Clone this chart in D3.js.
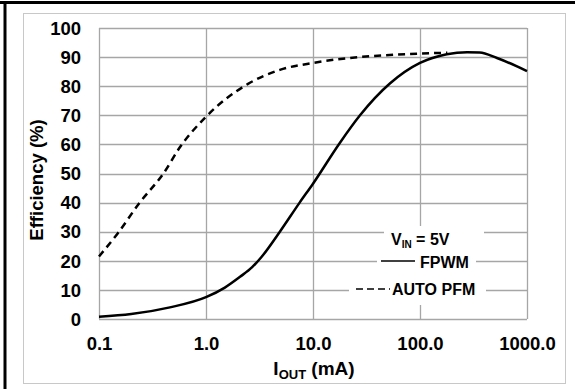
<!DOCTYPE html>
<html><head><meta charset="utf-8">
<script src="https://cdn.jsdelivr.net/npm/d3@7/dist/d3.min.js"></script>
<style>body{margin:0;background:#fff}svg{display:block}text{font-family:"Liberation Sans",Arial,sans-serif;font-weight:bold;fill:#000}</style>
</head><body><svg id="c" width="575" height="389"></svg>
<script>
const xTicks = [0.1, 1, 10, 100, 1000];
const yTicks = [0,10,20,30,40,50,60,70,80,90,100];
const fpwmI   = [0.1, 0.2, 0.46, 1.0, 1.5, 2.08, 2.7, 3.33, 4.9, 7.5, 10, 17.8, 27.5, 52.6, 100, 178, 276, 361, 524, 1000];
const fpwmEff = [0.8, 1.7, 4.0, 7.5, 10.8, 14.5, 17.8, 21.5, 30, 40, 46.5, 60.5, 70, 81, 88, 91, 91.7, 91.6, 89.7, 85.2];
const pfmI    = [0.1, 0.15, 0.24, 0.40, 0.57, 1.0, 2.47, 4.9, 10, 100, 180];
const pfmEff  = [21.5, 29.5, 40, 50, 59, 69.5, 80.8, 85.6, 88, 91.2, 91.5];

const svg = d3.select("#c");
const L = 99, R = 527, T = 28, B = 319;
const x = d3.scaleLog().domain([0.1, 1000]).range([L, R]);
const y = d3.scaleLinear().domain([0, 100]).range([B, T]);
const FS = "18.5px";

// frame
svg.append("rect").attr("x",23.5).attr("y",13.5).attr("width",542).attr("height",370)
  .attr("fill","none").attr("stroke","#c8c8c8").attr("stroke-width",1);
svg.append("line").attr("x1",0).attr("x2",575).attr("y1",2.5).attr("y2",2.5).attr("stroke","#000").attr("stroke-width",3);
svg.append("line").attr("x1",5).attr("x2",5).attr("y1",1).attr("y2",389).attr("stroke","#000").attr("stroke-width",3);

// grid
const g = svg.append("g");
g.selectAll(".hg").data(yTicks).join("line")
  .attr("x1",L).attr("x2",R).attr("y1",d=>Math.round(y(d))+0.5).attr("y2",d=>Math.round(y(d))+0.5)
  .attr("stroke","#a6a6a6").attr("stroke-width",1.3);
g.selectAll(".vg").data(xTicks).join("line")
  .attr("y1",T).attr("y2",B).attr("x1",d=>Math.round(x(d))+0.5).attr("x2",d=>Math.round(x(d))+0.5)
  .attr("stroke","#a6a6a6").attr("stroke-width",1.3);

// axes labels
const yAxis = d3.axisLeft(y).tickValues(yTicks).tickSize(0).tickPadding(0);
const ya = svg.append("g").attr("transform",`translate(${L-18},0)`).call(yAxis);
ya.select(".domain").remove();
ya.selectAll("text").style("font-size",FS).style("font-family","Liberation Sans, Arial, sans-serif").style("font-weight","bold").attr("fill","#000").attr("dy","0.34em");

const xAxis = d3.axisBottom(x).tickValues(xTicks).tickFormat(d3.format(".1f")).tickSize(0).tickPadding(0);
const xa = svg.append("g").attr("transform",`translate(0,337)`).call(xAxis);
xa.select(".domain").remove();
xa.selectAll("text").style("font-size",FS).style("font-family","Liberation Sans, Arial, sans-serif").style("font-weight","bold").attr("fill","#000");

// titles
const xt = svg.append("text").attr("x",314).attr("y",375).attr("text-anchor","middle").style("font-size","19px");
xt.append("tspan").text("I");
xt.append("tspan").attr("dy",4).style("font-size","13px").text("OUT");
xt.append("tspan").attr("dy",-4).text(" (mA)");
svg.append("text").attr("transform","translate(43,180) rotate(-90)").attr("text-anchor","middle")
  .style("font-size","18.5px").text("Efficiency (%)");

// curves
const line = d3.line().x(d=>x(d[0])).y(d=>y(d[1])).curve(d3.curveMonotoneX);
svg.append("path").datum(pfmI.map((v,i)=>[v,pfmEff[i]])).attr("d",line)
  .attr("fill","none").attr("stroke","#000").attr("stroke-width",2.5).attr("stroke-dasharray","7,5");
svg.append("path").datum(fpwmI.map((v,i)=>[v,fpwmEff[i]])).attr("d",line)
  .attr("fill","none").attr("stroke","#000").attr("stroke-width",2.5);

// legend
const lg = svg.append("g");
lg.append("rect").attr("x",384).attr("y",226).attr("width",100).attr("height",22).attr("fill","#fff");
lg.append("rect").attr("x",377).attr("y",248).attr("width",99).attr("height",28).attr("fill","#fff");
lg.append("rect").attr("x",349).attr("y",276).attr("width",137).attr("height",29).attr("fill","#fff");
const vt = lg.append("text").attr("x",391).attr("y",245).style("font-size","16px");
vt.append("tspan").text("V");
vt.append("tspan").attr("dy",3).style("font-size","10px").text("IN");
vt.append("tspan").attr("dy",-3).text(" = 5V");
lg.append("line").attr("x1",381).attr("x2",415).attr("y1",261).attr("y2",261).attr("stroke","#000").attr("stroke-width",1.5);
lg.append("text").attr("x",420).attr("y",268).style("font-size","16px").text("FPWM");
lg.append("line").attr("x1",356).attr("x2",390).attr("y1",289).attr("y2",289).attr("stroke","#000").attr("stroke-width",1.5).attr("stroke-dasharray","7,4");
lg.append("text").attr("x",392).attr("y",295).style("font-size","16px").text("AUTO PFM");
</script></body></html>
